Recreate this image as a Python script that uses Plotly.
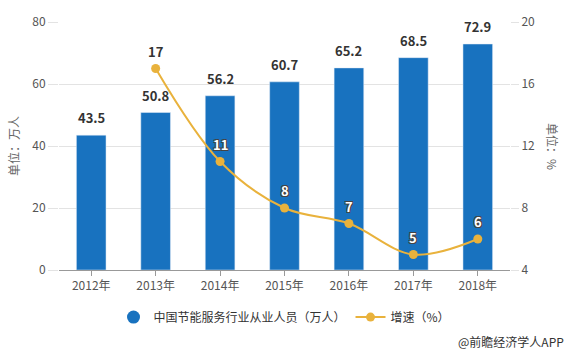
import plotly.graph_objects as go

years = ["2012年", "2013年", "2014年", "2015年", "2016年", "2017年", "2018年"]
employees = [43.5, 50.8, 56.2, 60.7, 65.2, 68.5, 72.9]
growth = [None, 17, 11, 8, 7, 5, 6]
growth_labels = ["", "17", "11", "8", "7", "5", "6"]

FONT = "Noto Sans CJK SC, Microsoft YaHei, sans-serif"
BLUE = "#1872BF"
ORANGE = "#E9B23C"

fig = go.Figure()
fig.add_trace(go.Bar(
    x=years, y=employees, name="中国节能服务行业从业人员（万人）",
    marker=dict(color=BLUE), showlegend=False,
))
# legend entry with a circle marker for the bars
fig.add_trace(go.Scatter(
    x=[None], y=[None], mode="markers", name="中国节能服务行业从业人员（万人）",
    marker=dict(color=BLUE, size=13, symbol="circle"),
))
fig.add_trace(go.Scatter(
    x=years, y=growth, name="增速（%）", yaxis="y2", mode="lines+markers",
    line=dict(color=ORANGE, width=2, shape="spline", smoothing=1.0),
    marker=dict(color=ORANGE, size=9), cliponaxis=False,
))

annotations = []
for yr, v in zip(years, employees):
    annotations.append(dict(x=yr, y=v, xref="x", yref="y", text=f"{v}", showarrow=False,
                            yanchor="bottom", yshift=6,
                            font=dict(family=FONT, size=13, color="#333333", weight="bold")))
for i, (yr, g, lab) in enumerate(zip(years, growth, growth_labels)):
    if g is None:
        continue
    if i == 1:
        fnt = dict(family=FONT, size=13, color="#333333", weight="bold")
    else:
        fnt = dict(family=FONT, size=13, color="white", weight="bold",
                   shadow="1px 1px 0 #444, -1px -1px 0 #444, 1px -1px 0 #444, -1px 1px 0 #444")
    annotations.append(dict(x=yr, y=g, xref="x", yref="y2", text=lab, showarrow=False,
                            yanchor="bottom", yshift=6, font=fnt))

annotations += [
    dict(text="单位：%", textangle=90, xref="paper", yref="paper", x=1.0, xshift=43,
         y=0.5, showarrow=False, font=dict(size=12, color="#666666"), xanchor="center"),
    dict(text="@前瞻经济学人APP", xref="paper", yref="paper", x=1.0, xshift=56,
         y=-0.29, yanchor="middle", xanchor="right", showarrow=False,
         font=dict(size=12, color="#333333")),
]

fig.update_layout(
    width=571, height=353,
    margin=dict(l=59, r=61, t=17, b=83),
    paper_bgcolor="white", plot_bgcolor="white",
    font=dict(family=FONT, size=12, color="#555555"),
    bargap=0.54,
    showlegend=True,
    legend=dict(orientation="h", x=0.5, xanchor="center", y=-0.19, yanchor="middle",
                font=dict(family=FONT, size=12, color="#333333"), itemwidth=30),
    xaxis=dict(showline=True, linecolor="#999999", ticks="outside", ticklen=5,
               tickcolor="#999999", tickfont=dict(size=12, color="#555555")),
    yaxis=dict(range=[0, 80], tickvals=[0, 20, 40, 60, 80], showgrid=True,
               gridcolor="#e3e3e3", zeroline=False, ticks="outside", ticklen=10,
               tickcolor="#e3e3e3", tickfont=dict(size=12, color="#555555"),
               title=dict(text="单位：万人", font=dict(size=12, color="#666666"), standoff=10)),
    yaxis2=dict(range=[4, 20], tickvals=[4, 8, 12, 16, 20], overlaying="y", side="right",
                showgrid=False, zeroline=False, ticks="outside", ticklen=8,
                tickcolor="#e3e3e3", tickfont=dict(size=12, color="#555555")),
    annotations=annotations,
)

fig.write_html("out.html")
